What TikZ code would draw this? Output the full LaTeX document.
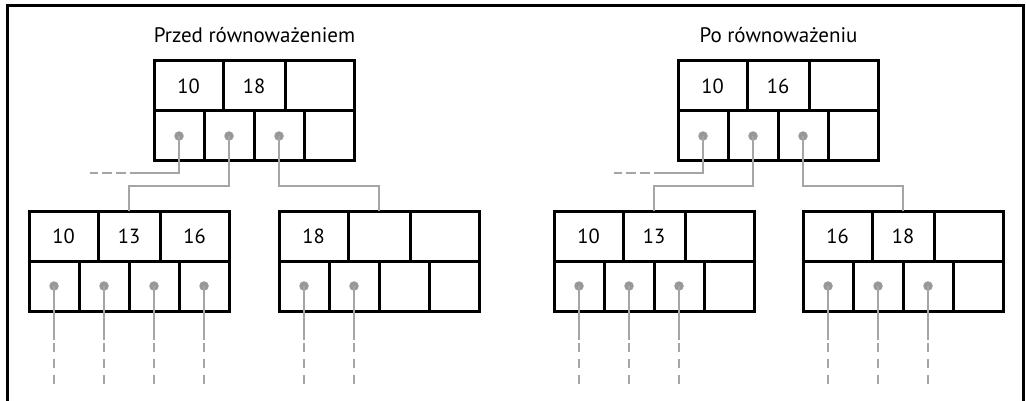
\documentclass[tikz,border=0pt]{standalone}
\usepackage{fontspec}
\setmainfont{PT Sans}
\usetikzlibrary{positioning}

\definecolor{linkgray}{RGB}{165,165,165}
\definecolor{dotgray}{RGB}{152,152,152}

\tikzset{
  cell/.style={draw, line width=3pt, outer sep=0pt, inner sep=0pt,
    minimum height=50pt, anchor=north west,
    font=\fontsize{20.5}{24}\selectfont},
  keycell/.style={cell, minimum width=69pt},
  midcell/.style={cell, minimum width=62pt},
  ptrcell/.style={cell, minimum width=50pt},
  ptrdot/.style={circle, fill=dotgray, inner sep=0pt, minimum size=9.5pt},
  link/.style={draw=linkgray, line width=2pt},
  tail/.style={link, dash pattern=on 9pt off 7pt, dash phase=13pt},
  lead/.style={link, dash pattern=on 10pt off 4pt, dash phase=10pt},
  frameline/.style={draw=black, line width=3pt},
  heading/.style={font=\fontsize{21}{25}\selectfont, inner sep=0pt},
}

% One B-tree page: three key cells over four pointer cells.
% #1 name, #2 x, #3 y of the top left corner, #4-#6 keys
\newcommand\btreepage[6]{%
  \node[keycell] (#1-t1) at (#2,#3) {#4};
  \node[midcell] (#1-t2) at (#1-t1.north east) {#5};
  \node[keycell] (#1-t3) at (#1-t2.north east) {#6};
  \node[ptrcell] (#1-p1) at (#1-t1.south west) {};
  \node[ptrcell] (#1-p2) at (#1-p1.north east) {};
  \node[ptrcell] (#1-p3) at (#1-p2.north east) {};
  \node[ptrcell] (#1-p4) at (#1-p3.north east) {};
}

% Pointer dots of page #1, cells 1..#2
\newcommand\pagedots[2]{%
  \foreach \i in {1,...,#2}{\node[ptrdot] (#1-d\i) at (#1-p\i.center) {};}
}

% Pointers of a leaf-level page running down out of the picture
\newcommand\pagetails[2]{%
  \foreach \i in {1,...,#2}{
    \coordinate (#1-s\i) at ([yshift=-54pt]#1-d\i.center);
    \coordinate (#1-e\i) at ([yshift=-100pt]#1-d\i.center);
    \draw[link] (#1-d\i.center) -- (#1-s\i);
    \draw[tail] (#1-s\i) -- (#1-e\i);
  }
}

% Root pointers: the first one leads off to the left, the other two
% go down to the middle of the child pages' top edges
\newcommand\rootlinks[3]{%
  \coordinate (#1-k) at ([xshift=-49pt,yshift=-37pt]#1-d1.center);
  \coordinate (#1-l) at ([xshift=-40pt]#1-k);
  \draw[link] (#1-d1.center) |- (#1-k);
  \draw[lead] (#1-k) -- (#1-l);
  \draw[link] (#1-d2.center) -- ++(0,50) -| (#2-t2.north);
  \draw[link] (#1-d3.center) -- ++(0,50) -| (#3-t2.north);
}

\begin{document}
\begin{tikzpicture}[x=1pt, y=-1pt]
  \useasboundingbox (0,0) rectangle (1026,401);

  % outer frame, open at the bottom
  \draw[frameline] (7,405) -- (7,6) -- (1023,6) -- (1023,405);

  % before rebalancing
  \node[heading] (titleA) at (254.5,35) {Przed równoważeniem};
  \btreepage{RA}{154}{61}{10}{18}{}
  \btreepage{LA}{29}{211}{10}{13}{16}
  \btreepage{MA}{279}{211}{18}{}{}
  \pagedots{RA}{3}
  \pagedots{LA}{4}
  \pagedots{MA}{2}
  \pagetails{LA}{4}
  \pagetails{MA}{2}
  \rootlinks{RA}{LA}{MA}

  % after rebalancing
  \node[heading] (titleB) at (778.5,35) {Po równoważeniu};
  \btreepage{RB}{678}{61}{10}{16}{}
  \btreepage{LB}{554}{211}{10}{13}{}
  \btreepage{MB}{803}{211}{16}{18}{}
  \pagedots{RB}{3}
  \pagedots{LB}{3}
  \pagedots{MB}{3}
  \pagetails{LB}{3}
  \pagetails{MB}{3}
  \rootlinks{RB}{LB}{MB}
\end{tikzpicture}
\end{document}
